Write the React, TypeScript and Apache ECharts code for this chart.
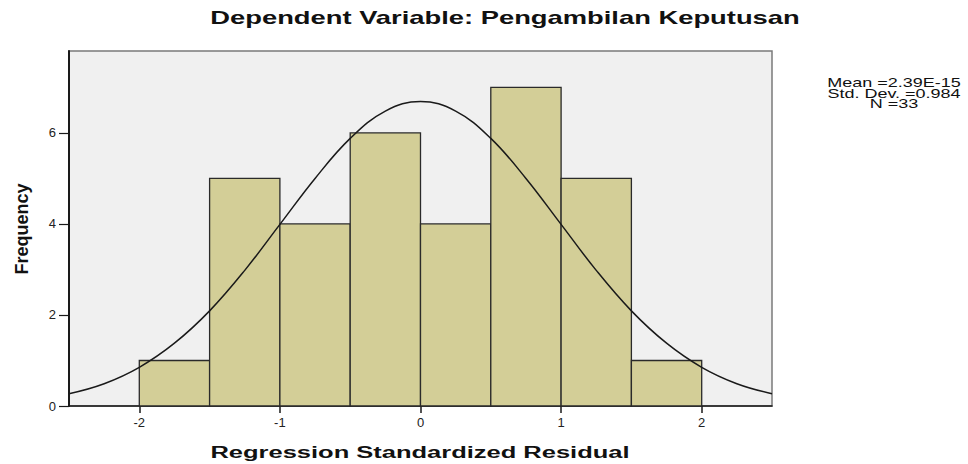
import React, { useEffect, useRef } from "react";
import * as echarts from "echarts";

const binStarts = [-2, -1.5, -1, -0.5, 0, 0.5, 1, 1.5];
const binWidth = 0.5;
const counts = [1, 5, 4, 6, 4, 7, 5, 1];

// normal curve (x, frequency)
const curveX = [-2.5, -2.25, -2, -1.75, -1.5, -1.25, -1, -0.75, -0.5, -0.25, 0, 0.25, 0.5, 0.75, 1, 1.25, 1.5, 1.75, 2, 2.25, 2.5];
const curveY = [0.27, 0.49, 0.85, 1.38, 2.09, 2.98, 3.99, 5.0, 5.88, 6.48, 6.69, 6.48, 5.88, 5.0, 3.99, 2.98, 2.09, 1.38, 0.85, 0.49, 0.27];

const xTicks = [-2, -1, 0, 1, 2];
const yTicks = [0, 2, 4, 6];

const titleText = "Dependent Variable: Pengambilan Keputusan";
const xName = "Regression Standardized Residual";
const yName = "Frequency";
const statLines = ["Mean =2.39E-15", "Std. Dev. =0.984", "N =33"];

const FONT = '"Liberation Sans", Arial, sans-serif';

export default function App() {
  const ref = useRef<HTMLDivElement>(null);
  useEffect(() => {
    if (!ref.current) return;
    const chart = echarts.init(ref.current, null, { renderer: "svg" });
    const barData = binStarts.map((s, i) => [s, s + binWidth, counts[i]]);
    chart.setOption({
      animation: false,
      backgroundColor: "#ffffff",
      grid: {
        left: 69,
        right: 196,
        top: 51,
        bottom: 58,
        show: true,
        backgroundColor: "#f0f0f0",
        borderColor: "#7a7a7a",
        borderWidth: 1.5,
      },
      xAxis: {
        type: "value",
        min: -2.5,
        max: 2.5,
        axisLine: { show: true, onZero: false, lineStyle: { color: "#1a1a1a", width: 1.5 } },
        axisTick: { show: true, length: 7, customValues: xTicks, lineStyle: { color: "#1a1a1a", width: 1.5 } },
        axisLabel: { customValues: xTicks, margin: 10, color: "#222", fontSize: 13, fontFamily: FONT },
        splitLine: { show: false },
      },
      yAxis: {
        type: "value",
        min: 0,
        max: 7.8,
        axisLine: { show: true, onZero: false, lineStyle: { color: "#1a1a1a", width: 2 } },
        axisTick: { show: true, length: 10, customValues: yTicks, lineStyle: { color: "#1a1a1a", width: 1.2 } },
        axisLabel: { customValues: yTicks, margin: 13, color: "#222", fontSize: 13, fontFamily: FONT },
        splitLine: { show: false },
      },
      series: [
        {
          type: "custom",
          data: barData,
          encode: { x: [0, 1], y: 2 },
          renderItem: (params: any, api: any) => {
            const x0 = api.value(0);
            const x1 = api.value(1);
            const c = api.value(2);
            const p0 = api.coord([x0, c]);
            const p1 = api.coord([x1, 0]);
            return {
              type: "rect",
              shape: { x: p0[0], y: p0[1], width: p1[0] - p0[0], height: p1[1] - p0[1] },
              style: { fill: "#d3ce97", stroke: "#2a2a2a", lineWidth: 1.3 },
            };
          },
          z: 2,
        },
        {
          type: "line",
          data: curveX.map((x, i) => [x, curveY[i]]),
          smooth: 0.4,
          showSymbol: false,
          lineStyle: { color: "#1a1a1a", width: 1.5 },
          z: 3,
        },
      ],
      graphic: [
        {
          type: "text",
          x: 505,
          y: 18,
          scaleX: 1.52,
          style: {
            text: titleText,
            font: `bold 18px ${FONT}`,
            fill: "#111",
            textAlign: "center",
            textVerticalAlign: "middle",
          },
        },
        {
          type: "text",
          x: 420,
          y: 452,
          scaleX: 1.5,
          style: {
            text: xName,
            font: `bold 17px ${FONT}`,
            fill: "#111",
            textAlign: "center",
            textVerticalAlign: "middle",
          },
        },
        {
          type: "text",
          x: 22,
          y: 229,
          rotation: Math.PI / 2,
          style: {
            text: yName,
            font: `bold 18px ${FONT}`,
            fill: "#111",
            textAlign: "center",
            textVerticalAlign: "middle",
          },
        },
        ...statLines.map((t, i) => ({
          type: "text",
          x: 894,
          y: 83 + i * 10.5,
          scaleX: 1.5,
          style: {
            text: t,
            font: `12px ${FONT}`,
            fill: "#111",
            textAlign: "center",
            textVerticalAlign: "middle",
          },
        })),
      ],
    });
    return () => chart.dispose();
  }, []);
  return (
    <div
      ref={ref}
      style={{ position: "fixed", left: 0, top: 0, width: 968, height: 464 }}
    />
  );
}
